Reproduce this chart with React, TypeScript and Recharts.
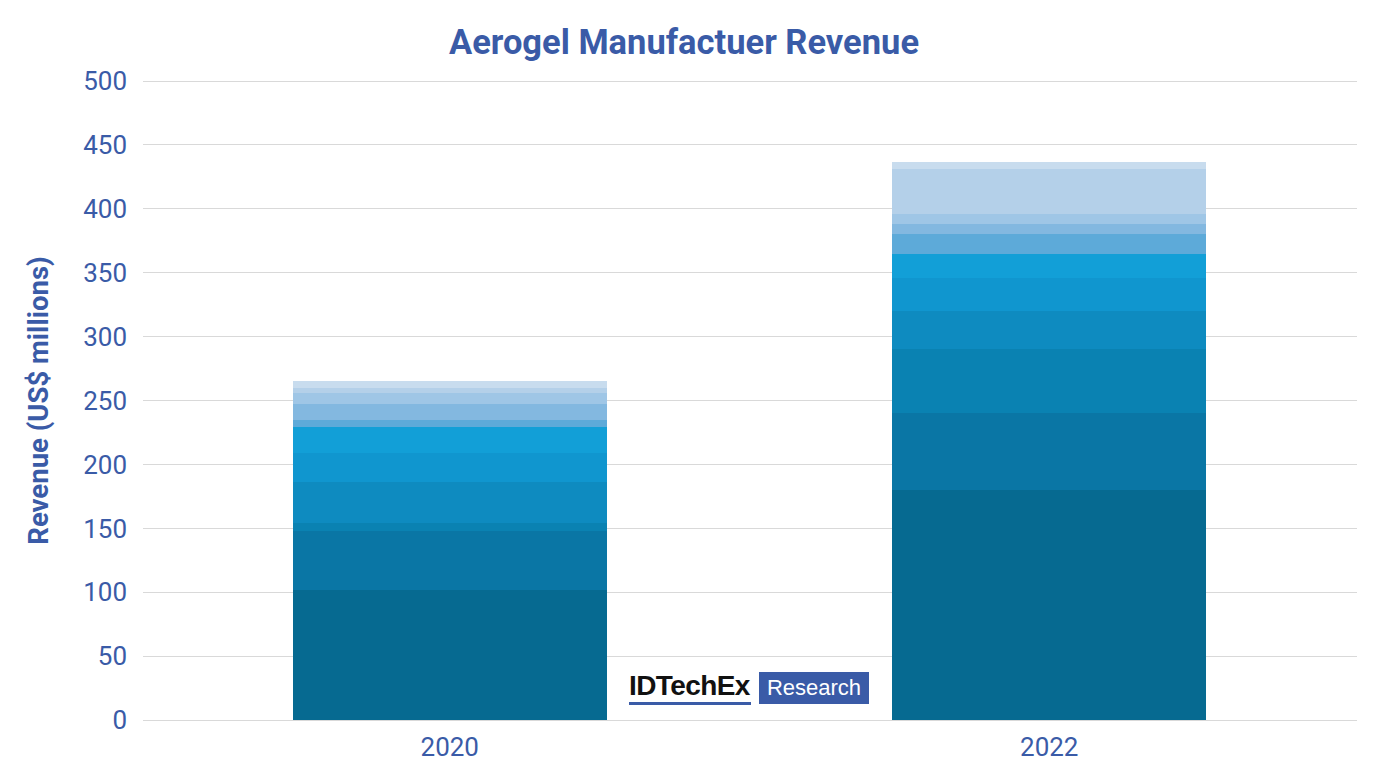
import React from "react";
import { BarChart, Bar, XAxis, YAxis, CartesianGrid } from "recharts";

const years = ["2020", "2022"];

// stack segments, bottom to top
const seg1 = [102, 180];
const seg2 = [46, 60];
const seg3 = [6, 50];
const seg4 = [32, 30];
const seg5 = [23, 26];
const seg6 = [20, 19];
const seg7 = [6, 15];
const seg8 = [12, 8];
const seg9 = [9, 8];
const seg10 = [4, 35];
const seg11 = [5, 6];

const segments = [seg1, seg2, seg3, seg4, seg5, seg6, seg7, seg8, seg9, seg10, seg11];

const COLORS = [
  "#066A91",
  "#0A76A5",
  "#0A82B2",
  "#0E8BC0",
  "#1096CF",
  "#129FD7",
  "#5DAAD9",
  "#83B8E0",
  "#9FC6E6",
  "#B4D0E9",
  "#C8DCEE",
];

const yTicks = [0, 50, 100, 150, 200, 250, 300, 350, 400, 450, 500];

const data = years.map((year, i) => {
  const row: Record<string, string | number> = { year };
  segments.forEach((s, k) => {
    row[`s${k + 1}`] = s[i];
  });
  return row;
});

const BLUE = "#3A5BA7";
const FONT = "Roboto, 'Noto Sans', sans-serif";

function YLabel({ viewBox }: any) {
  const cx = viewBox.x + 38;
  const cy = viewBox.y + viewBox.height / 2;
  return (
    <text
      x={cx}
      y={cy}
      transform={`rotate(-90 ${cx} ${cy})`}
      textAnchor="middle"
      dominantBaseline="central"
      fill={BLUE}
      fontSize={27.5}
      fontWeight={700}
      fontFamily={FONT}
    >
      Revenue (US$ millions)
    </text>
  );
}

export default function App() {
  return (
    <div
      style={{
        position: "absolute",
        left: 0,
        top: 0,
        width: 1378,
        height: 776,
        background: "#fff",
        fontFamily: FONT,
      }}
    >
      <div
        style={{
          position: "absolute",
          left: 0,
          width: 1368,
          top: 19,
          textAlign: "center",
          color: BLUE,
          fontSize: 34.5,
          fontWeight: 700,
          lineHeight: "46px",
        }}
      >
        Aerogel Manufactuer Revenue
      </div>
      <BarChart
        width={1378}
        height={776}
        data={data}
        margin={{ top: 81, right: 21, left: 0, bottom: 6 }}
        barCategoryGap="23.8%"
        style={{ shapeRendering: "crispEdges" }}
      >
        <CartesianGrid vertical={false} stroke="#D9D9D9" strokeWidth={1} />
        <XAxis
          dataKey="year"
          height={50}
          tickSize={0}
          tickMargin={18}
          padding={{ left: 7, right: 8 }}
          axisLine={{ stroke: "#D9D9D9" }}
          tick={{ fill: BLUE, fontSize: 26, fontFamily: FONT }}
        />
        <YAxis
          width={143}
          domain={[0, 500]}
          ticks={yTicks}
          tickSize={0}
          tickMargin={16}
          axisLine={false}
          tick={{ fill: BLUE, fontSize: 26, fontFamily: FONT }}
          label={<YLabel />}
        />
        {segments.map((_, k) => (
          <Bar
            key={k}
            dataKey={`s${k + 1}`}
            stackId="a"
            fill={COLORS[k]}
            isAnimationActive={false}
          />
        ))}
      </BarChart>
      <div
        style={{
          position: "absolute",
          left: 629,
          top: 671,
          width: 122,
          height: 34,
          fontFamily: "Arial, 'Liberation Sans', sans-serif",
          fontSize: 28,
          fontWeight: 700,
          color: "#111",
          lineHeight: "30px",
          borderBottom: `3px solid ${BLUE}`,
          boxSizing: "border-box",
          letterSpacing: -0.6,
          whiteSpace: "nowrap",
        }}
      >
        IDTechEx
      </div>
      <div
        style={{
          position: "absolute",
          left: 759,
          top: 672,
          width: 110,
          height: 32,
          background: BLUE,
          color: "#fff",
          fontFamily: "Arial, 'Liberation Sans', sans-serif",
          fontSize: 22,
          lineHeight: "32px",
          textAlign: "center",
        }}
      >
        Research
      </div>
    </div>
  );
}
